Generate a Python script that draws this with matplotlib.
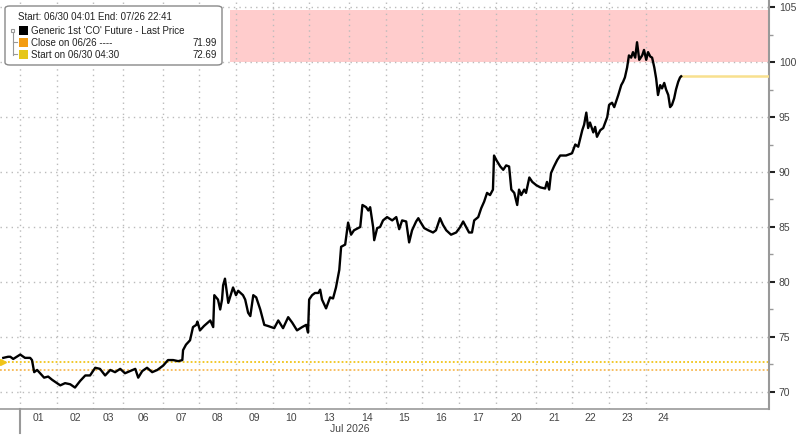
import matplotlib
matplotlib.use("Agg")
import matplotlib.pyplot as plt
from matplotlib.patches import FancyBboxPatch, Rectangle

plt.rcParams['font.family'] = ['Liberation Sans', 'DejaVu Sans']

# time in trading-day units (0 = start of the 07/01 session), price
t = [-0.42, -0.29, -0.23, -0.15, 0.04, 0.17, 0.31, 0.36, 0.42, 0.50, 0.58, 0.69, 0.80, 0.91,
     1.04, 1.13, 1.26, 1.40, 1.53, 1.67, 1.81, 1.94, 2.08, 2.21, 2.35, 2.49, 2.62, 2.76, 2.89,
     3.03, 3.17, 3.25, 3.36, 3.49, 3.63, 3.77, 3.93, 4.06, 4.20, 4.34, 4.45, 4.47, 4.55, 4.66,
     4.74, 4.83, 4.86, 4.93, 5.04, 5.21, 5.29, 5.32, 5.42, 5.48, 5.53, 5.56, 5.61, 5.70, 5.83,
     5.91, 5.97, 6.10, 6.16, 6.24, 6.30, 6.38, 6.46, 6.57, 6.68, 6.78, 6.95, 7.06, 7.19, 7.33,
     7.44, 7.57, 7.71, 7.82, 7.87, 7.90, 7.98, 8.06, 8.15, 8.20, 8.25, 8.36, 8.47, 8.55, 8.63,
     8.72, 8.77, 8.88, 8.96, 9.04, 9.12, 9.29, 9.35, 9.45, 9.51, 9.56, 9.64, 9.67, 9.75, 9.83,
     9.91, 10.02, 10.16, 10.27, 10.35, 10.43, 10.54, 10.62, 10.70, 10.81, 10.87, 10.92, 11.03,
     11.14, 11.27, 11.35, 11.46, 11.54, 11.63, 11.76, 11.90, 12.01, 12.09, 12.17, 12.25, 12.33,
     12.39, 12.50, 12.58, 12.66, 12.74, 12.82, 12.90, 12.93, 12.99, 13.10, 13.18, 13.26, 13.34,
     13.40, 13.48, 13.56, 13.61, 13.67, 13.75, 13.80, 13.89, 13.97, 14.08, 14.19, 14.32, 14.37,
     14.43, 14.48, 14.56, 14.65, 14.73, 14.89, 15.05, 15.14, 15.22, 15.33, 15.38, 15.44, 15.49,
     15.54, 15.63, 15.68, 15.73, 15.82, 15.90, 16.01, 16.06, 16.14, 16.20, 16.25, 16.31, 16.39,
     16.44, 16.49, 16.55, 16.60, 16.66, 16.71, 16.77, 16.82, 16.88, 16.96, 17.01, 17.07, 17.12,
     17.18, 17.23, 17.29, 17.34, 17.39, 17.45, 17.50, 17.56, 17.61, 17.67, 17.72, 17.77, 17.83,
     17.88, 17.94, 17.99, 18.02]
price = [73.1, 73.2, 73.2, 73.0, 73.4, 73.1, 73.1, 72.9, 71.8, 72.0, 71.7, 71.3, 71.4, 71.1,
         70.8, 70.6, 70.8, 70.7, 70.4, 71.0, 71.5, 71.5, 72.2, 72.1, 71.5, 72.0, 71.8, 72.1, 71.7,
         71.9, 72.1, 71.3, 71.9, 72.2, 71.8, 72.0, 72.4, 72.9, 72.9, 72.8, 72.9, 73.8, 74.3, 74.7,
         75.9, 76.1, 76.4, 75.6, 76.0, 76.5, 75.9, 78.8, 78.4, 77.5, 78.4, 79.7, 80.3, 78.1, 79.5,
         78.8, 79.2, 78.8, 78.4, 77.2, 76.9, 78.8, 78.6, 77.5, 76.1, 76.0, 75.8, 76.5, 75.8, 76.8,
         76.3, 75.6, 75.9, 76.1, 75.4, 78.4, 78.8, 79.0, 79.0, 79.3, 78.4, 77.6, 78.6, 78.5, 79.5,
         81.1, 83.2, 83.4, 85.4, 84.3, 84.7, 85.0, 87.0, 86.8, 86.5, 86.8, 85.0, 83.8, 84.9, 85.0,
         85.6, 85.9, 85.6, 85.9, 84.8, 85.6, 85.5, 83.6, 84.7, 85.5, 85.8, 85.5, 84.9,
         84.7, 84.5, 84.7, 85.8, 85.2, 84.7, 84.3, 84.5, 85.0, 85.5, 85.0, 84.5, 84.5,
         85.6, 85.9, 86.7, 87.3, 88.1, 87.9, 88.4, 91.5, 91.1, 90.5, 90.2, 90.6, 90.5,
         88.4, 88.1, 87.0, 88.4, 87.9, 88.4, 88.1, 89.5, 89.1, 88.8, 88.6, 88.5, 89.1,
         88.4, 89.9, 90.5, 91.1, 91.5, 91.5, 91.7, 92.5, 92.3, 93.8, 94.3, 95.4, 94.0,
         94.5, 93.6, 94.1, 93.2, 93.8, 94.0, 95.0, 96.1, 96.3, 95.9, 96.4, 97.0, 97.9,
         98.2, 98.6, 99.5, 100.6, 100.4, 100.9, 100.4, 101.8, 100.2, 100.6, 101.1, 100.2, 100.9,
         100.5, 100.4, 99.5, 98.5, 97.0, 97.9, 97.6, 98.1, 97.5, 97.0, 95.9, 96.1, 96.7,
         97.5, 98.2, 98.6, 98.7]

day_edges = [0.04, 1.04, 2.02, 2.84, 3.93, 4.91, 5.91, 6.92, 7.90, 8.98, 9.99, 10.97,
             11.98, 12.99, 14.08, 15.05, 16.06, 17.07, 17.99]
day_labels = ['01', '02', '03', '06', '07', '08', '09', '10', '13', '14', '15', '16',
              '17', '20', '21', '22', '23', '24']

close_0626 = 71.99
start_0630 = 72.69
band_low, band_high, band_start = 100.0, 104.73, 5.75

fig = plt.figure(figsize=(8, 4.36), dpi=100)
ax = fig.add_axes([0, 27 / 436, 769 / 800, 409 / 436])
ax.set_xlim(-0.51, 20.41)
ax.set_ylim(68.45, 105.64)

# highlighted band
ax.axhspan(band_low, band_high, xmin=(band_start + 0.51) / 20.92, xmax=1,
           color='#ffcccc', lw=0, zorder=0)

# reference lines
ax.axhline(start_0630, color='#f0c419', lw=1.3, ls=(0, (1, 1.2)), zorder=2)
ax.axhline(close_0626, color='#f7b955', lw=1.3, ls=(0, (1, 1.2)), zorder=2)
ax.plot([t[0]], [start_0630], marker='>', color='#f0c419', ms=5, zorder=3, clip_on=False)

# price
ax.plot(t, price, color='black', lw=1.7, zorder=4)
ax.plot([t[-1], 20.41], [price[-1], price[-1]], color='#f8e08e', lw=1.8, zorder=3)

# axes styling
for s in ['top', 'left']:
    ax.spines[s].set_visible(False)
ax.spines['right'].set_color('#999999')
ax.spines['right'].set_linewidth(1.5)
ax.spines['bottom'].set_color('#999999')
ax.spines['bottom'].set_linewidth(1.2)

ax.yaxis.tick_right()
ax.set_yticks(range(70, 106, 5))
ax.set_yticks([72.5, 77.5, 82.5, 87.5, 92.5, 97.5, 102.5], minor=True)
ax.tick_params(axis='y', which='major', direction='out', length=4, width=1.5,
               color='#222222', labelsize=7.5, labelcolor='#444444', pad=3)
ax.tick_params(axis='y', which='minor', direction='out', length=3, width=1, color='#999999')
ax.grid(axis='y', which='major', color='#bbbbbb', ls=(0, (1, 3)), lw=1)

mids = [(a + b) / 2 for a, b in zip(day_edges[:-1], day_edges[1:])]
ax.set_xticks(mids)
ax.set_xticklabels(day_labels)
ax.set_xticks(day_edges[:-1], minor=True)
ax.tick_params(axis='x', which='both', length=0, labelsize=7.5, labelcolor='#444444', pad=3)
ax.grid(axis='x', which='minor', color='#bbbbbb', ls=(0, (1, 3)), lw=1)

# month marker
ax.plot([day_edges[0], day_edges[0]], [0, -0.058], transform=ax.get_xaxis_transform(),
        color='#999999', lw=1.5, clip_on=False)
ax.text(9.0, -0.05, 'Jul 2026', transform=ax.get_xaxis_transform(), ha='center', va='center',
        fontsize=7.5, color='#444444')

# legend box (figure pixel coordinates)
W, H = 800, 436
def fx(px):
    return px / W
def fy(py):
    return 1 - py / H

fig.patches.append(FancyBboxPatch((fx(5), fy(65)), fx(217), 59 / H,
                                  boxstyle='round,pad=0,rounding_size=0.006',
                                  transform=fig.transFigure, fc='white', ec='#888888', lw=1,
                                  zorder=10))
fig.text(fx(18), fy(17), 'Start: 06/30 04:01 End: 07/26 22:41', fontsize=7,
         va='center', color='#222222', zorder=11)
legend_rows = [('#000000', "Generic 1st 'CO' Future - Last Price", ''),
               ('#f39c12', 'Close on 06/26 ----', f'{close_0626:.2f}'),
               ('#e6c619', 'Start on 06/30 04:30', f'{start_0630:.2f}')]
row_y = [30.5, 42.5, 54.5]
for (c, lab, val), ry in zip(legend_rows, row_y):
    fig.patches.append(Rectangle((fx(19), fy(ry + 4.5)), fx(9), 9 / H, transform=fig.transFigure,
                                 fc=c, ec='none', zorder=11))
    fig.text(fx(31), fy(ry), lab, fontsize=7, va='center', color='#222222', zorder=11)
    if val:
        fig.text(fx(217), fy(ry), val, fontsize=7, va='center', ha='right',
                 color='#222222', zorder=11)
# tree connector
fig.patches.append(Rectangle((fx(11), fy(32)), fx(3), 3 / H, transform=fig.transFigure,
                             fc='white', ec='#999999', lw=0.8, zorder=11))
fig.lines.append(plt.Line2D([fx(12.5), fx(12.5)], [fy(32), fy(55)], transform=fig.transFigure,
                            color='#999999', lw=0.8, zorder=11))
for ry in row_y[1:]:
    fig.lines.append(plt.Line2D([fx(12.5), fx(17)], [fy(ry), fy(ry)], transform=fig.transFigure,
                                color='#999999', lw=0.8, zorder=11))

fig.savefig('out.png', dpi=100)
